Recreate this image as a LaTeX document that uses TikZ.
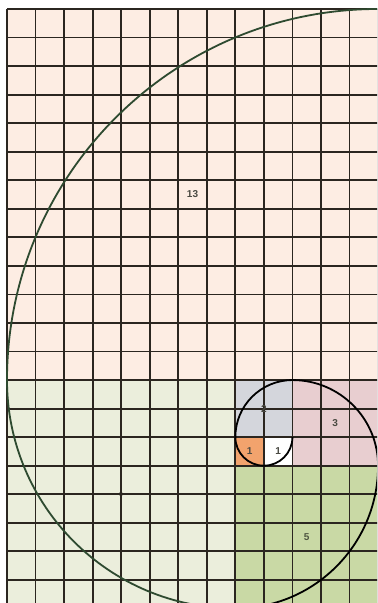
\documentclass[tikz,border=0pt]{standalone}
\usepackage{fontspec}
\setmainfont{Liberation Sans}
\definecolor{c13}{HTML}{FDEDE3}
\definecolor{c8}{HTML}{EBEEDC}
\definecolor{c5}{HTML}{C9D9A5}
\definecolor{c3}{HTML}{E8CED0}
\definecolor{c2}{HTML}{D4D6DC}
\definecolor{c1a}{HTML}{F2A36D}
\definecolor{c1b}{HTML}{FFFFFF}
\definecolor{gridc}{HTML}{2B2620}
\definecolor{spiralg}{HTML}{2E4A30}
\definecolor{labc}{HTML}{4A4A42}
\begin{document}
\begin{tikzpicture}[x=1cm,y=1cm,
  gridline/.style={draw=gridc,line width=1.8pt},
  spiral/.style={draw=black,line width=1.8pt},
  spiralbig/.style={draw=spiralg,line width=1.8pt},
  lab/.style={font=\fontsize{10}{10}\selectfont\bfseries,text=labc,inner sep=0pt}]
\useasboundingbox (-0.245,0.19) rectangle (12.97,21.315);
\fill[white] (-0.245,0.19) rectangle (12.97,21.315);
\begin{scope}
\clip (-0.245,0.19) rectangle (12.97,21.315);
% squares
\fill[c13] (0,8) rectangle (13,21);
\fill[c8] (0,0) rectangle (8,8);
\fill[c5] (8,0) rectangle (13,5);
\fill[c3] (10,5) rectangle (13,8);
\fill[c2] (8,6) rectangle (10,8);
\fill[c1a] (8,5) rectangle (9,6);
\fill[c1b] (9,5) rectangle (10,6);
% grid
\foreach \i in {0,...,13} \draw[gridline] (\i,0) -- (\i,21);
\foreach \j in {0,...,21} \draw[gridline] (0,\j) -- (13,\j);
% spiral
\coordinate (p0) at (10,6);
\coordinate (p1) at (8,6);
\coordinate (p2) at (10,8);
\coordinate (p3) at (13,5);
\coordinate (p4) at (8,0);
\coordinate (p5) at (0,8);
\draw[spiral] (p0) arc (0:-180:1);
\draw[spiral] (p1) arc (180:90:2);
\draw[spiral] (p2) arc (90:0:3);
\draw[spiral] (p3) arc (0:-90:5);
\draw[spiralbig] (p4) arc (-90:-180:8);
\draw[spiralbig] (p5) arc (180:90:13);
\end{scope}
% labels
\node[lab] (l13) at (6.5,14.5) {13};
\node[lab,font=\fontsize{6}{6}\selectfont\bfseries,text=gridc] (l8) at (4,4) {8};
\node[lab,text=black!60!c5] (l5) at (10.5,2.5) {5};
\node[lab] (l3) at (11.5,6.5) {3};
\node[lab] (l2) at (9,7) {2};
\node[lab] (l1a) at (8.5,5.5) {1};
\node[lab] (l1b) at (9.5,5.5) {1};
\end{tikzpicture}
\end{document}
